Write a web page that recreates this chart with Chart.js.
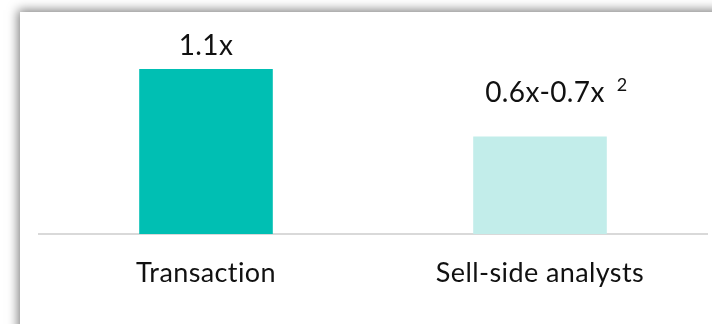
<!DOCTYPE html>
<html>
<head>
  <meta charset="UTF-8">
  <title>Valuation multiple</title>
  <script src="https://cdn.jsdelivr.net/npm/chart.js"></script>
  <style>
    html, body { margin: 0; padding: 0; overflow: hidden; background: #fff; }
    #card { position: absolute; left: 20px; top: 12px; width: 740px; height: 360px; background: #fff;
            box-shadow: -1px -1px 10px 1px rgba(0,0,0,0.5); }
    #wrap { position: absolute; left: 0; top: 0; width: 712px; height: 324px; }
  </style>
</head>
<body>
  <div id="card"></div>
  <div id="wrap"><canvas id="chart" width="712" height="324"></canvas></div>
  <script>
    const categories = ['Transaction', 'Sell-side analysts'];
    const multiples = [1.1, 0.65];
    const valueLabels = ['1.1x', '0.6x-0.7x'];
    const footnotes = ['', '2'];

    const barColors = ['#00BFB3', '#C2EDEA'];
    const textColor = '#111111';
    const fontFamily = 'Lato, "Open Sans", sans-serif';

    // a little tracking keeps Lato from joining "ct" into a ligature
    const noLigatures = {
      id: 'noLigatures',
      beforeDraw(chart) { chart.ctx.letterSpacing = '0.4px'; }
    };

    // value text over each bar, with an optional superscript note
    const barLabels = {
      id: 'barLabels',
      afterDatasetsDraw(chart, args, opts) {
        const ctx = chart.ctx;
        const bars = chart.getDatasetMeta(0).data;
        ctx.save();
        ctx.fillStyle = textColor;
        ctx.textBaseline = 'alphabetic';
        bars.forEach((bar, i) => {
          const x = bar.x + opts.shift[i];
          const y = bar.y - opts.gap[i];
          ctx.font = '28px ' + fontFamily;
          ctx.textAlign = 'center';
          ctx.fillText(valueLabels[i], x, y);
          if (footnotes[i]) {
            const w = ctx.measureText(valueLabels[i]).width;
            ctx.font = '18px ' + fontFamily;
            ctx.textAlign = 'left';
            ctx.fillText(footnotes[i], x + w / 2 + 12, y - 11);
          }
        });
        ctx.restore();
      }
    };

    new Chart(document.getElementById('chart').getContext('2d'), {
      type: 'bar',
      data: {
        labels: categories,
        datasets: [{
          data: multiples,
          backgroundColor: barColors,
          borderWidth: 0,
          barPercentage: 1,
          categoryPercentage: 0.4
        }]
      },
      options: {
        responsive: false,
        animation: false,
        layout: { padding: { left: 39, right: 5, top: 9, bottom: 0 } },
        plugins: {
          legend: { display: false },
          tooltip: { enabled: false },
          barLabels: { gap: [14, 35], shift: [0, 5] }
        },
        scales: {
          x: {
            afterFit(scale) { scale.height = 90; },
            grid: { display: false, drawTicks: false },
            border: { display: true, color: '#d9d9d9', width: 2 },
            ticks: { color: textColor, font: { family: fontFamily, size: 27 }, padding: 23 }
          },
          y: {
            display: false,
            min: 0,
            max: 1.5
          }
        }
      },
      plugins: [noLigatures, barLabels]
    });
  </script>
</body>
</html>
